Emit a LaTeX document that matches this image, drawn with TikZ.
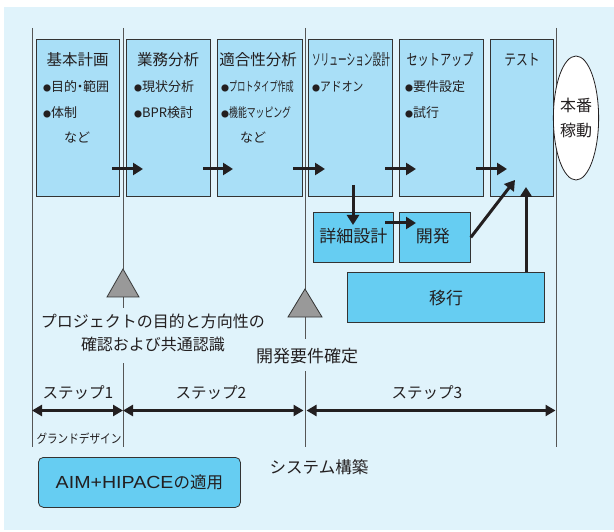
\documentclass[tikz,border=0pt]{standalone}
\usepackage{fontspec}
\setmainfont{Noto Sans CJK JP}
\newfontfamily\latinf{Liberation Sans}
\usetikzlibrary{arrows.meta,shapes.geometric}
\definecolor{bgc}{HTML}{E0F3FB}
\definecolor{boxc}{HTML}{A9DFF7}
\definecolor{darkbox}{HTML}{66CDF2}
\definecolor{edgec}{HTML}{333333}
\definecolor{vlinec}{HTML}{555555}
\definecolor{trigc}{HTML}{999999}
\definecolor{inkc}{HTML}{231F20}
\newcommand{\fs}[1]{\fontsize{#1}{#1}\selectfont}
\newcommand{\bul}{{\fs{8}●}}
\newcommand{\cond}[2]{\scalebox{#1}[1]{#2}}
\newcommand{\nakaten}{\makebox[6pt]{・}}
\begin{document}
\begin{tikzpicture}[x=1pt,y=-1pt,
  phase/.style={draw=edgec,fill=boxc,line width=0.8pt,minimum height=157pt,anchor=north west,inner sep=0pt},
  subbox/.style={draw=edgec,fill=darkbox,line width=0.8pt,anchor=north west,inner sep=0pt},
  ttl/.style={font=\fs{15.5},text=inkc,inner sep=0pt},
  item/.style={font=\fs{13},text=inkc,anchor=west,inner sep=0pt},
  lbl/.style={font=\fs{16},text=inkc,inner sep=0pt},
  vl/.style={draw=vlinec,line width=0.8pt},
  tri/.style={draw=edgec,fill=trigc,line width=0.8pt,line join=miter},
  flow/.style={draw=inkc,line width=3pt,-{Triangle[length=10pt,width=12pt]}},
  span/.style={draw=inkc,line width=2.5pt,{Triangle[length=10pt,width=11pt]}-{Triangle[length=10pt,width=11pt]}}]
\useasboundingbox (0,0) rectangle (614,532);
\fill[bgc] (4,7) rectangle (614,530);

% vertical lines
\draw[vl] (32,28) -- (32,447);
\draw[vl] (123,28) -- (123,269);
\draw[vl] (123,297) -- (123,308);
\draw[vl] (123,363) -- (123,447);
\draw[vl] (305,28) -- (305,289);
\draw[vl] (305,317) -- (305,339);
\draw[vl] (305,371) -- (305,447);
\draw[vl] (556.5,28) -- (556.5,447);

% phase boxes
\node[phase,minimum width=83.6pt] (b1) at (35.7,39) {};
\node[phase,minimum width=84pt] (b2) at (126,39) {};
\node[phase,minimum width=85pt] (b3) at (217,39) {};
\node[phase,minimum width=84pt] (b4) at (308,39) {};
\node[phase,minimum width=84pt] (b5) at (399,39) {};
\node[phase,minimum width=63pt] (b6) at (490,39) {};

% titles
\node[ttl] (t1) at (77.5,60) {基本計画};
\node[ttl] (t2) at (168,60) {業務分析};
\node[ttl] (t3) at (258,60) {適合性分析};
\node[ttl] (t4) at (351,60) {\cond{0.56}{ソリューション設計}};
\node[ttl] (t5) at (440,60) {\cond{0.72}{セットアップ}};
\node[ttl] (t6) at (522,60) {\cond{0.76}{テスト}};

% items
\node[item] (i11) at (43,87) {\bul 目的\nakaten 範囲};
\node[item] (i12) at (43,113) {\bul 体制};
\node[item] (i13) at (77,138) [anchor=center] {など};
\node[item] (i21) at (134,87) {\bul 現状分析};
\node[item] (i22) at (134,113) {\bul BPR検討};
\node[item] (i31) at (221,87) {\bul\cond{0.62}{プロトタイプ作成}};
\node[item] (i32) at (221,113) {\bul\cond{0.68}{機能マッピング}};
\node[item] (i33) at (253,138) [anchor=center] {など};
\node[item] (i41) at (312,87) {\bul\cond{0.83}{アドオン}};
\node[item] (i51) at (405,87) {\bul 要件設定};
\node[item] (i52) at (405,113) {\bul 試行};

% go-live ellipse
\node[ellipse,draw=inkc,fill=white,line width=0.8pt,minimum width=38pt,minimum height=124pt,inner sep=0pt,
  font=\fontsize{16}{25}\selectfont,align=center,text=inkc] (live) at (576,118) {本番\\稼動};

% sub boxes
\node[subbox,minimum width=80pt,minimum height=50pt] (d1) at (313,212) {};
\node[lbl,font=\fs{17}] (d1t) at ([yshift=1pt]d1.center) {詳細設計};
\node[subbox,minimum width=71pt,minimum height=50pt] (d2) at (399,212) {};
\node[lbl,font=\fs{17}] (d2t) at ([xshift=-2pt,yshift=1pt]d2.center) {開発};
\node[subbox,minimum width=197pt,minimum height=50pt] (mig) at (347,272) {};
\node[lbl,font=\fs{17}] (migt0) at (446,298) {移行};

% flow arrows
\coordinate (a1s) at (112,169); \coordinate (a1e) at (143,169);
\coordinate (a2s) at (203,169); \coordinate (a2e) at (233,169);
\coordinate (a3s) at (293,169); \coordinate (a3e) at (325,169);
\coordinate (a4s) at (385,169); \coordinate (a4e) at (416,169);
\coordinate (a5s) at (476,169); \coordinate (a5e) at (507,169);
\draw[flow] (a1s) -- (a1e);
\draw[flow] (a2s) -- (a2e);
\draw[flow] (a3s) -- (a3e);
\draw[flow] (a4s) -- (a4e);
\draw[flow] (a5s) -- (a5e);
\coordinate (dns) at (353,185); \coordinate (dne) at (353,225);
\draw[flow] (dns) -- (dne);
\coordinate (dds) at (385,223); \coordinate (dde) at (416,223);
\draw[flow] (dds) -- (dde);
\coordinate (devt) at (515,180);
\draw[flow] (d2.east) -- (devt);
\coordinate (migt) at (526,187);
\draw[flow] (mig.north -| migt) -- (migt);

% milestones
\draw[tri] (123,269) -- (139,297) -- (107,297) -- cycle;
\draw[tri] (305,289) -- (322,317) -- (288,317) -- cycle;
\node[lbl,align=center,font=\fontsize{16}{23}\selectfont] (m1) at (153,333) {プロジェクトの目的と方向性の\\確認および共通認識};
\node[lbl,font=\fs{17}] (m2) at (307,356) {開発要件確定};

% steps
\coordinate (s0) at (32,410.5);
\coordinate (s1) at (123,410.5);
\coordinate (s2) at (305,410.5);
\coordinate (s3) at (556.5,410.5);
\draw[span] (s0) -- (s1);
\draw[span] (s1) -- ([xshift=-1.5pt]s2);
\draw[span] ([xshift=1.5pt]s2) -- ([xshift=-1pt]s3);
\node[lbl,font=\fs{15.5}] (st1) at (78,393) {ステップ1};
\node[lbl,font=\fs{15.5}] (st2) at (211,393) {ステップ2};
\node[lbl,font=\fs{15.5}] (st3) at (427,393) {ステップ3};
\node[lbl,font=\fs{12.5}] (gd) at (79,439) {\cond{0.85}{グランドデザイン}};
\node[lbl,font=\fs{16.5}] (sys) at (319,467) {システム構築};

% AIM box
\node[draw=edgec,fill=darkbox,line width=0.8pt,rounded corners=5pt,minimum width=202pt,minimum height=50pt,
  anchor=north west,inner sep=0pt] (aim) at (38,457) {};
\node[lbl,font=\fs{16.5}] (aimt) at (aim.center) {\cond{1.12}{\latinf\fs{17.5}AIM+HIPACE}の適用};
\end{tikzpicture}
\end{document}
